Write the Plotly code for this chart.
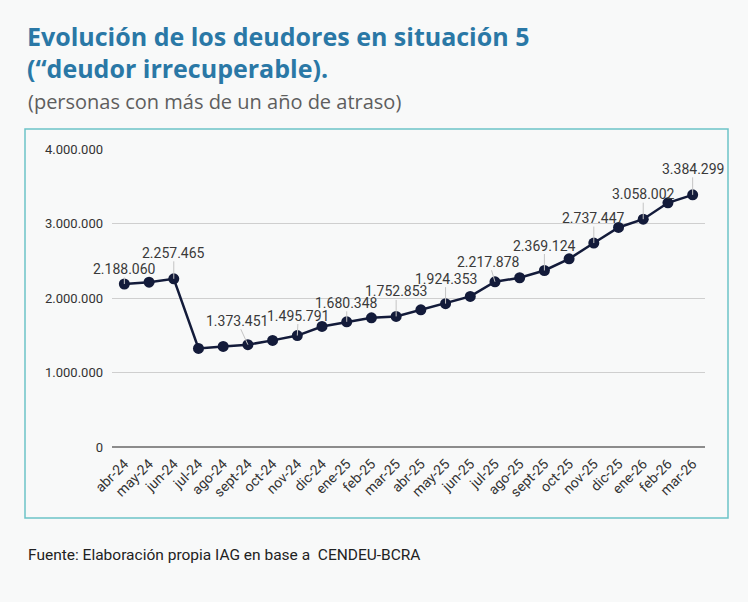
import plotly.graph_objects as go

# ---- data ----
months = ["abr-24", "may-24", "jun-24", "jul-24", "ago-24", "sept-24", "oct-24", "nov-24",
          "dic-24", "ene-25", "feb-25", "mar-25", "abr-25", "may-25", "jun-25", "jul-25",
          "ago-25", "sept-25", "oct-25", "nov-25", "dic-25", "ene-26", "feb-26", "mar-26"]
deudores = [2188060, 2212000, 2257465, 1323000, 1350000, 1373451, 1431000, 1495791,
            1618000, 1680348, 1734000, 1752853, 1842000, 1924353, 2021000, 2217878,
            2272000, 2369124, 2526000, 2737447, 2947000, 3058002, 3278000, 3384299]
labeled_idx = [0, 2, 5, 7, 9, 11, 13, 15, 17, 19, 21, 23]
y_ticks = [0, 1000000, 2000000, 3000000, 4000000]

# ---- label offsets (px) ----
label_offsets = {0: (0, -15), 2: (0, -26), 5: (-11, -24), 7: (1, -20), 9: (0, -19),
                 11: (0, -25), 13: (0, -25), 15: (-6, -20), 17: (0, -25), 19: (0, -25),
                 21: (0, -25), 23: (0, -26)}

W, H = 748, 602
L, R, T, B = 112, 43, 149, 155
PW, PH = W - L - R, H - T - B


def px(x):
    return (x - L) / PW


def py(y):
    return (H - B - y) / PH


def fmt(v):
    return f"{v:,}".replace(",", ".")


NAVY = "#131b3a"
fig = go.Figure()
fig.add_trace(go.Scatter(
    x=months, y=deudores, mode="lines+markers",
    line=dict(color=NAVY, width=2.5),
    marker=dict(color=NAVY, size=11),
    hoverinfo="x+y", showlegend=False,
))

annotations = []
for i in labeled_idx:
    ax, ay = label_offsets[i]
    annotations.append(dict(
        x=months[i], y=deudores[i], xref="x", yref="y",
        text=fmt(deudores[i]), showarrow=True, arrowhead=0, arrowwidth=1,
        arrowcolor="#c4c4c4", ax=ax, ay=ay, standoff=0,
        font=dict(family="Roboto", size=14, color="#3a3a3a"),
        borderpad=0,
    ))

TITLE_FONT = dict(family="Open Sans", size=25, color="#2a78a6")
annotations.append(dict(
    xref="paper", yref="paper", x=px(26), y=py(36), xanchor="left", yanchor="middle",
    text="<b>Evolución de los deudores en situación 5</b>",
    showarrow=False, font=TITLE_FONT, borderpad=0,
))
annotations.append(dict(
    xref="paper", yref="paper", x=px(26), y=py(68), xanchor="left", yanchor="middle",
    text="<b>(“deudor irrecuperable).</b>",
    showarrow=False, font=TITLE_FONT, borderpad=0,
))
annotations.append(dict(
    xref="paper", yref="paper", x=px(26), y=py(101), xanchor="left", yanchor="middle",
    text="(personas con más de un año de atraso)", showarrow=False,
    font=dict(family="Open Sans", size=20, color="#5e5e5e"),
))
annotations.append(dict(
    xref="paper", yref="paper", x=px(26), y=py(555), xanchor="left", yanchor="middle",
    text="Fuente: Elaboración propia IAG en base a  CENDEU-BCRA", showarrow=False,
    font=dict(family="Roboto", size=15.5, color="#222222"),
))

shapes = [dict(
    type="rect", xref="paper", yref="paper",
    x0=px(25), x1=px(728), y0=py(518), y1=py(129),
    line=dict(color="#6cc3c8", width=1.5), fillcolor="rgba(0,0,0,0)", layer="below",
)]

fig.update_layout(
    width=W, height=H,
    margin=dict(l=L, r=R, t=T, b=B),
    paper_bgcolor="#f8f9f9", plot_bgcolor="#f8f9f9",
    separators=",.",
    annotations=annotations, shapes=shapes,
    xaxis=dict(
        type="category", range=[-0.5, 23.5], tickangle=-45,
        tickfont=dict(family="Roboto", size=14, color="#333333"),
        showgrid=False, showline=False, zeroline=False, ticks="",
        ticklabelstandoff=5,
    ),
    yaxis=dict(
        range=[0, 4000000], tickvals=y_ticks, tickformat=",.0f",
        tickfont=dict(family="Roboto", size=13, color="#333333"),
        showgrid=True, gridcolor="#cfcfcf", gridwidth=1,
        zeroline=True, zerolinecolor="#8c8c8c", zerolinewidth=2,
        showline=False, ticks="", ticklabelstandoff=8,
    ),
)

fig.write_html("out.html")
